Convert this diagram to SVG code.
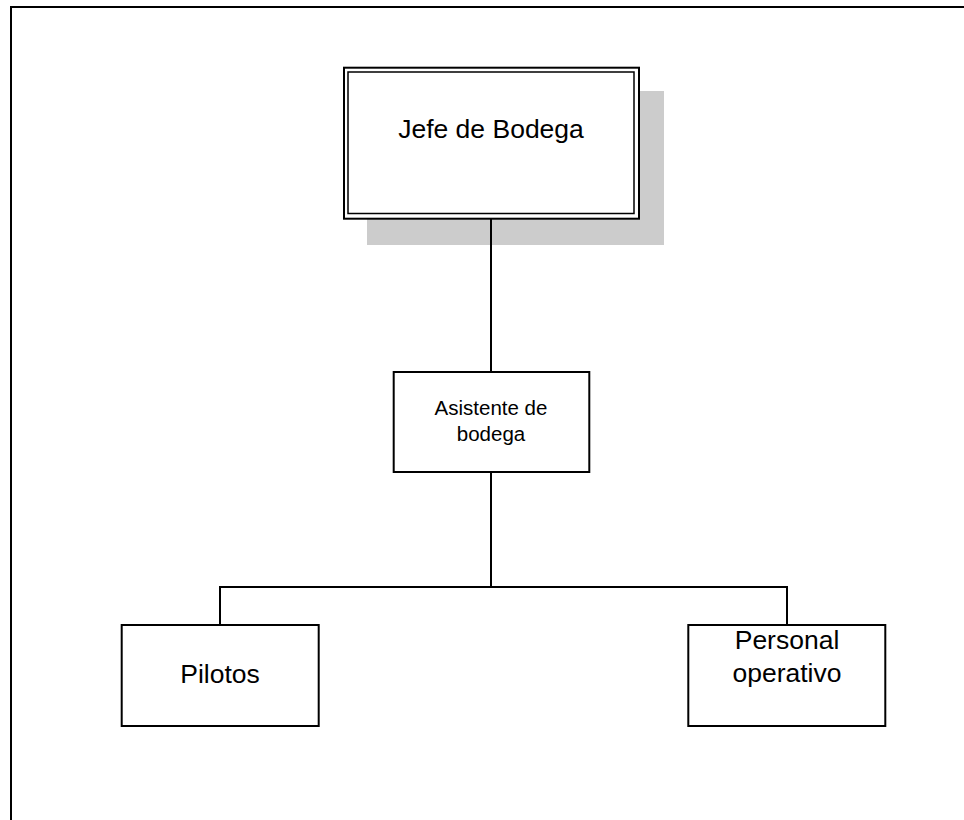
<svg xmlns="http://www.w3.org/2000/svg" width="964" height="820" viewBox="0 0 964 820">
  <style>
    .box { fill: #ffffff; stroke: #000000; stroke-width: 2; }
    .inner { fill: none; stroke: #000000; stroke-width: 1.5; }
    .shadow { fill: #cccccc; stroke: none; }
    .wire { fill: none; stroke: #000000; stroke-width: 2; }
    .label { font-family: "Liberation Sans", Arial, sans-serif; fill: #000000; text-anchor: middle; }
    .big { font-size: 26.5px; }
    .small { font-size: 20.5px; }
  </style>
  <rect x="0" y="0" width="964" height="820" fill="#ffffff"/>

  <!-- page frame -->
  <path id="frame" class="wire" d="M 11 820 V 7 H 964"/>

  <!-- top node with drop shadow and double border -->
  <g id="jefe-de-bodega">
    <rect class="shadow" x="367" y="91" width="297" height="154"/>
    <rect class="box" x="344" y="67.7" width="295" height="151"/>
    <rect class="inner" x="348" y="72" width="286" height="141.5"/>
    <text class="label big" x="491" y="138">Jefe de Bodega</text>
  </g>

  <g id="asistente-de-bodega">
    <rect class="box" x="393.7" y="372" width="195.6" height="100"/>
    <text class="label small" x="491" y="415">Asistente de</text>
    <text class="label small" x="491" y="441">bodega</text>
  </g>

  <g id="pilotos">
    <rect class="box" x="121.7" y="625" width="197" height="101"/>
    <text class="label big" x="220" y="683">Pilotos</text>
  </g>

  <g id="personal-operativo">
    <rect class="box" x="688.3" y="625" width="197" height="101"/>
    <text class="label big" x="787" y="649">Personal</text>
    <text class="label big" x="787" y="682">operativo</text>
  </g>

  <!-- connectors, drawn last so they run over the shadow -->
  <g id="connectors">
    <line class="wire" x1="491" y1="219" x2="491" y2="372"/>
    <line class="wire" x1="491" y1="472" x2="491" y2="587"/>
    <path class="wire" d="M 220 625 V 587 H 787 V 625"/>
  </g>
</svg>
